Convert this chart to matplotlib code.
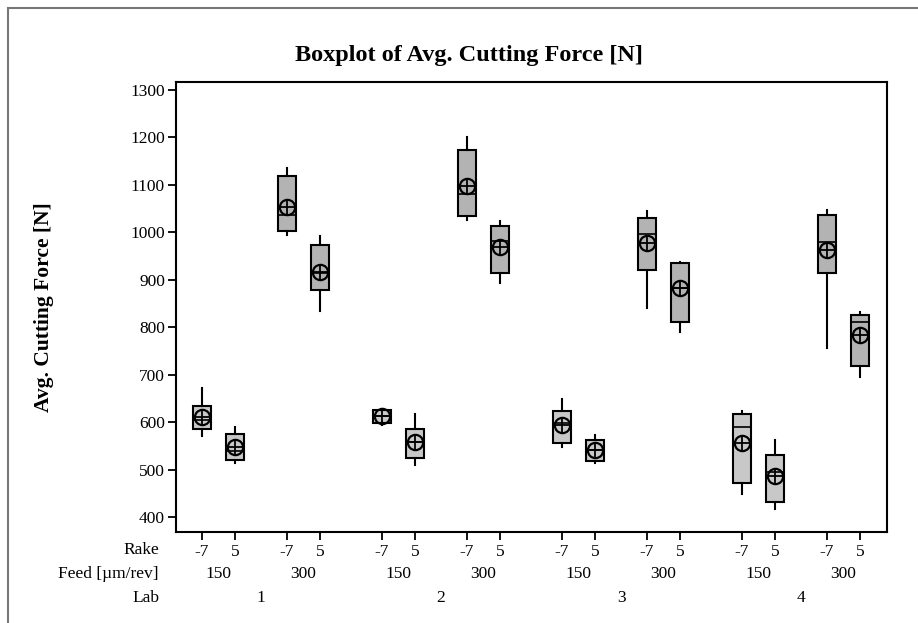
import matplotlib
matplotlib.use("Agg")
import matplotlib.pyplot as plt
from matplotlib.patches import Rectangle
from matplotlib.transforms import blended_transform_factory

# ---- data ----
labs = ["1", "2", "3", "4"]
feeds = ["150", "300"]
rakes = ["-7", "5"]

# order: Lab1(150:-7,5; 300:-7,5), Lab2 ..., Lab3 ..., Lab4 ...
whislo = [571, 513, 995, 835, 594, 510, 1026, 893, 547, 513, 841, 791, 448, 417, 757, 695]
q1     = [586, 520, 1002, 879, 599, 525, 1034, 914, 555, 517, 921, 810, 472, 431, 914, 719]
med    = [604, 539, 1036, 914, 613, 559, 1081, 982, 599, 541, 996, 883, 589, 495, 979, 812]
q3     = [634, 576, 1119, 973, 625, 586, 1173, 1013, 624, 562, 1031, 935, 617, 531, 1037, 826]
whishi = [672, 590, 1136, 993, 628, 617, 1202, 1024, 648, 573, 1045, 938, 624, 562, 1047, 833]
means  = [610, 548, 1054, 916, 613, 559, 1098, 970, 593, 541, 977, 882, 555, 487, 963, 784]

yticks = [400, 500, 600, 700, 800, 900, 1000, 1100, 1200, 1300]

# ---- layout constants ----
RAKE_STEP = 1.0
FEED_STEP = 85 / 33
LAB_STEP = 180 / 33
BOX_W = 0.55
FS = 12.5
feed_colors = {"150": "#c8c8c8", "300": "#b3b3b3"}

plt.rcParams['font.family'] = ['Liberation Serif', 'DejaVu Serif']

fig = plt.figure(figsize=(9.18, 6.23), dpi=100)
# outer grey frame (right/bottom edges cut off)
fig.patches.append(Rectangle((8 / 918, -0.05), 1.2, 1 - 8 / 623 + 0.05,
                             transform=fig.transFigure, fill=False,
                             edgecolor="#777777", linewidth=1.5))

ax = fig.add_axes([176 / 918, 1 - 532 / 623, (887 - 176) / 918, (532 - 82) / 623])

positions, stats, colors, rake_lbl = [], [], [], []
i = 0
for li, lab in enumerate(labs):
    for fi, feed in enumerate(feeds):
        for ri, rake in enumerate(rakes):
            positions.append(li * LAB_STEP + fi * FEED_STEP + ri * RAKE_STEP)
            stats.append(dict(whislo=whislo[i], q1=q1[i], med=med[i], q3=q3[i],
                              whishi=whishi[i], mean=means[i], fliers=[]))
            colors.append(feed_colors[feed])
            rake_lbl.append(rake)
            i += 1

bp = ax.bxp(stats, positions=positions, widths=BOX_W, patch_artist=True,
            showcaps=False, showfliers=False, showmeans=False,
            boxprops=dict(edgecolor="black", linewidth=1.5),
            whiskerprops=dict(color="black", linewidth=1.5),
            medianprops=dict(color="black", linewidth=1.2))
for patch, c in zip(bp["boxes"], colors):
    patch.set_facecolor(c)

ax.plot(positions, means, linestyle="none", marker="o", markersize=11,
        markerfacecolor="none", markeredgecolor="black", markeredgewidth=1.6, zorder=5)
ax.plot(positions, means, linestyle="none", marker="+", markersize=11,
        markeredgecolor="black", markeredgewidth=1.3, zorder=5)

ax.set_xlim(-26 / 33, 685 / 33)
ax.set_ylim(368.4, 1316.9)
ax.set_yticks(yticks)
ax.set_yticklabels([str(v) for v in yticks], fontsize=FS)
ax.set_xticks(positions)
ax.set_xticklabels(rake_lbl, fontsize=FS)
ax.tick_params(axis="both", direction="out", length=6, width=1.3, colors="black")
ax.tick_params(axis="x", pad=3)
ax.tick_params(axis="y", pad=2)
for s in ax.spines.values():
    s.set_linewidth(1.5)

ax.set_ylabel("Avg. Cutting Force [N]", fontsize=15.5, fontweight="bold")
ax.yaxis.set_label_coords((54 - 176) / 711, 0.5)
fig.text(469 / 918, 1 - 55 / 623, "Boxplot of Avg. Cutting Force [N]",
         ha="center", va="center", fontsize=17.5, fontweight="bold")

# lower label rows
tr = blended_transform_factory(ax.transData, fig.transFigure)
y_rake, y_feed, y_lab = 1 - 550 / 623, 1 - 574 / 623, 1 - 598 / 623
fig.text(159 / 918, y_rake, "Rake", ha="right", va="center", fontsize=FS)
fig.text(159 / 918, y_feed, "Feed [µm/rev]", ha="right", va="center", fontsize=FS)
fig.text(159 / 918, y_lab, "Lab", ha="right", va="center", fontsize=FS)

for li, lab in enumerate(labs):
    for fi, feed in enumerate(feeds):
        x = li * LAB_STEP + fi * FEED_STEP + RAKE_STEP / 2
        ax.text(x, y_feed, feed, transform=tr, ha="center", va="center", fontsize=FS)
    xl = li * LAB_STEP + (FEED_STEP + RAKE_STEP) / 2
    ax.text(xl, y_lab, lab, transform=tr, ha="center", va="center", fontsize=FS)

fig.savefig("out.png", dpi=100)
